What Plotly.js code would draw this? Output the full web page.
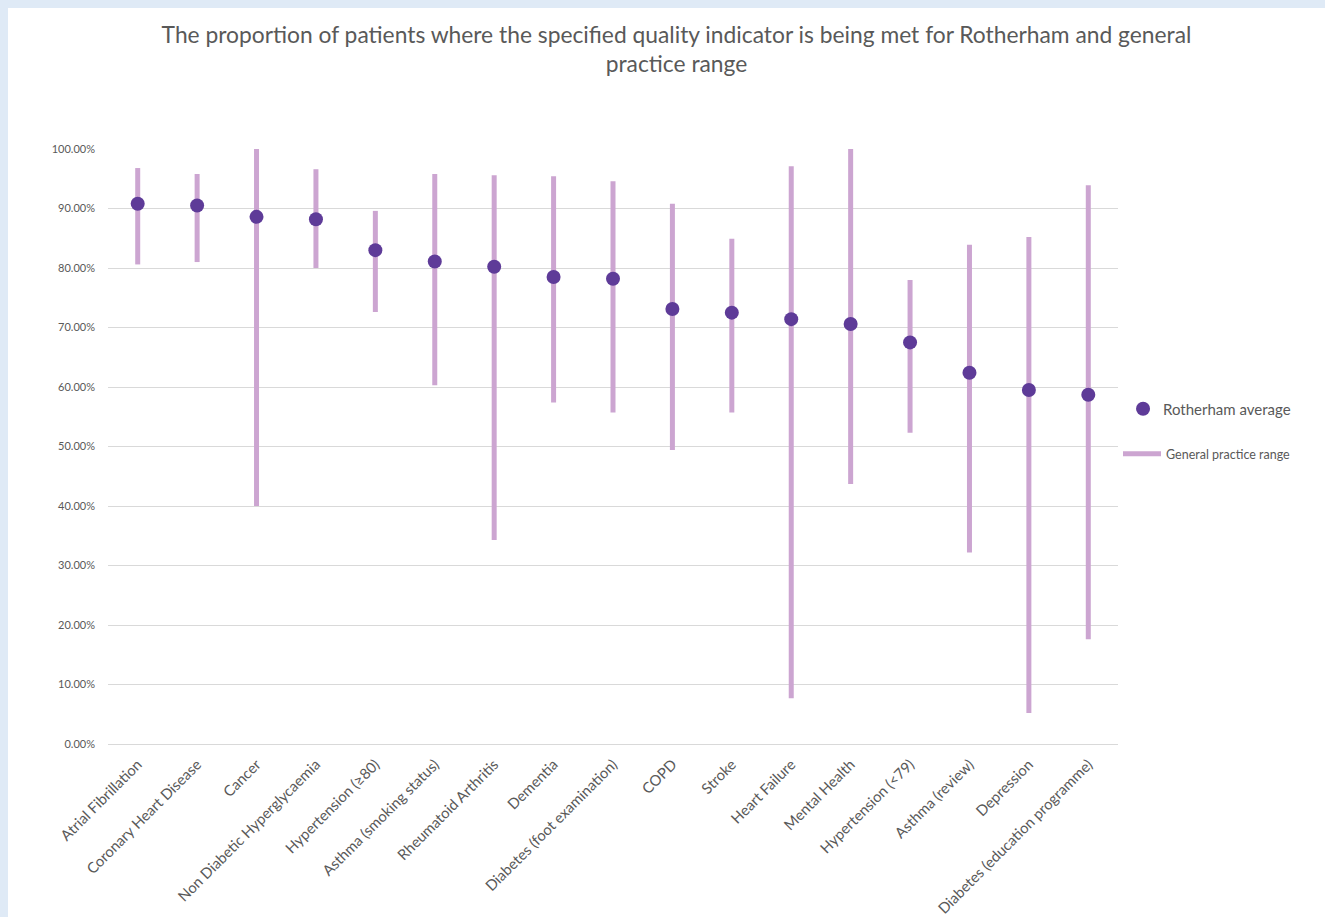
<!DOCTYPE html>
<html>
<head>
<meta charset="utf-8">
<script src="https://cdn.plot.ly/plotly-3.0.1.min.js"></script>
<style>
  html, body { margin: 0; padding: 0; background: #dfeaf6; }
  #chart { position: absolute; left: 8px; top: 8px; width: 1317px; height: 909px; background: #ffffff; }
</style>
</head>
<body>
<div id="chart"></div>
<script>
// Quality indicators, ordered by Rotherham average
const indicators = [
  'Atrial Fibrillation', 'Coronary Heart Disease', 'Cancer', 'Non Diabetic Hyperglycaemia',
  'Hypertension (≥80)', 'Asthma (smoking status)', 'Rheumatoid Arthritis', 'Dementia',
  'Diabetes (foot examination)', 'COPD', 'Stroke', 'Heart Failure', 'Mental Health',
  'Hypertension (<79)', 'Asthma (review)', 'Depression', 'Diabetes (education programme)'
];

// Rotherham average (%)
const rotherhamAvg = [90.8, 90.5, 88.6, 88.2, 83.0, 81.1, 80.2, 78.5, 78.2, 73.1, 72.5, 71.4, 70.6, 67.5, 62.4, 59.5, 58.7];

// Lowest and highest practice values (%)
const practiceMin = [80.6, 81.0, 40.0, 80.0, 72.6, 60.3, 34.3, 57.4, 55.7, 49.4, 55.7, 7.7, 43.7, 52.3, 32.2, 5.2, 17.6];
const practiceMax = [96.8, 95.8, 100.0, 96.6, 89.6, 95.8, 95.6, 95.4, 94.6, 90.8, 84.9, 97.1, 100.0, 78.0, 83.9, 85.2, 93.9];

// y-axis tick values
const yTicks = [0, 10, 20, 30, 40, 50, 60, 70, 80, 90, 100];

// Build vertical range segments, separated by gaps
const rangeX = [], rangeY = [];
indicators.forEach((name, i) => {
  rangeX.push(name, name, null);
  rangeY.push(practiceMin[i], practiceMax[i], null);
});

const textColor = '#595959';
const font = 'Lato, "Open Sans", sans-serif';

const traces = [
  {
    type: 'scatter', mode: 'lines', name: 'General practice range',
    x: rangeX, y: rangeY, connectgaps: false,
    line: { color: '#cca5d1', width: 5 },
    legend: 'legend2',
    hoverinfo: 'skip'
  },
  {
    type: 'scatter', mode: 'markers', name: 'Rotherham average',
    x: indicators, y: rotherhamAvg,
    marker: { color: '#5e3b98', size: 14 },
    legend: 'legend'
  }
];

const layout = {
  width: 1317, height: 909,
  paper_bgcolor: '#ffffff', plot_bgcolor: '#ffffff',
  margin: { l: 100, r: 207, t: 141, b: 173 },
  font: { family: font, color: textColor, size: 12 },
  title: {
    text: 'The proportion of patients where the specified quality indicator is being met for Rotherham and general<br>practice range',
    font: { family: font, size: 22.8, color: textColor },
    x: 0.5076, xanchor: 'center', y: 0.962, yanchor: 'top'
  },
  xaxis: {
    type: 'category', categoryorder: 'array', categoryarray: indicators,
    tickangle: -45, showgrid: false, showline: false, ticks: '',
    ticklabelstandoff: 8,
    tickfont: { family: font, size: 14.8, color: textColor },
    range: [-0.5, indicators.length - 0.5]
  },
  yaxis: {
    range: [0, 100], tickvals: yTicks,
    ticktext: yTicks.map(v => v.toFixed(2) + '%'),
    showgrid: true, gridcolor: '#d9d9d9', gridwidth: 1,
    zeroline: true, zerolinecolor: '#d9d9d9', zerolinewidth: 1,
    showline: false, ticks: '', ticklabelstandoff: 12,
    tickfont: { family: font, size: 11, color: textColor }
  },
  showlegend: true,
  legend: {
    x: 1.005, xanchor: 'left', y: 0.563, yanchor: 'middle',
    bgcolor: 'rgba(0,0,0,0)',
    font: { family: font, size: 15, color: textColor },
    itemwidth: 30
  },
  legend2: {
    x: 1.0, xanchor: 'left', y: 0.487, yanchor: 'middle',
    bgcolor: 'rgba(0,0,0,0)',
    font: { family: font, size: 12.5, color: textColor },
    itemwidth: 38
  }
};

Plotly.newPlot('chart', traces, layout, { displayModeBar: false, staticPlot: true });
</script>
</body>
</html>
